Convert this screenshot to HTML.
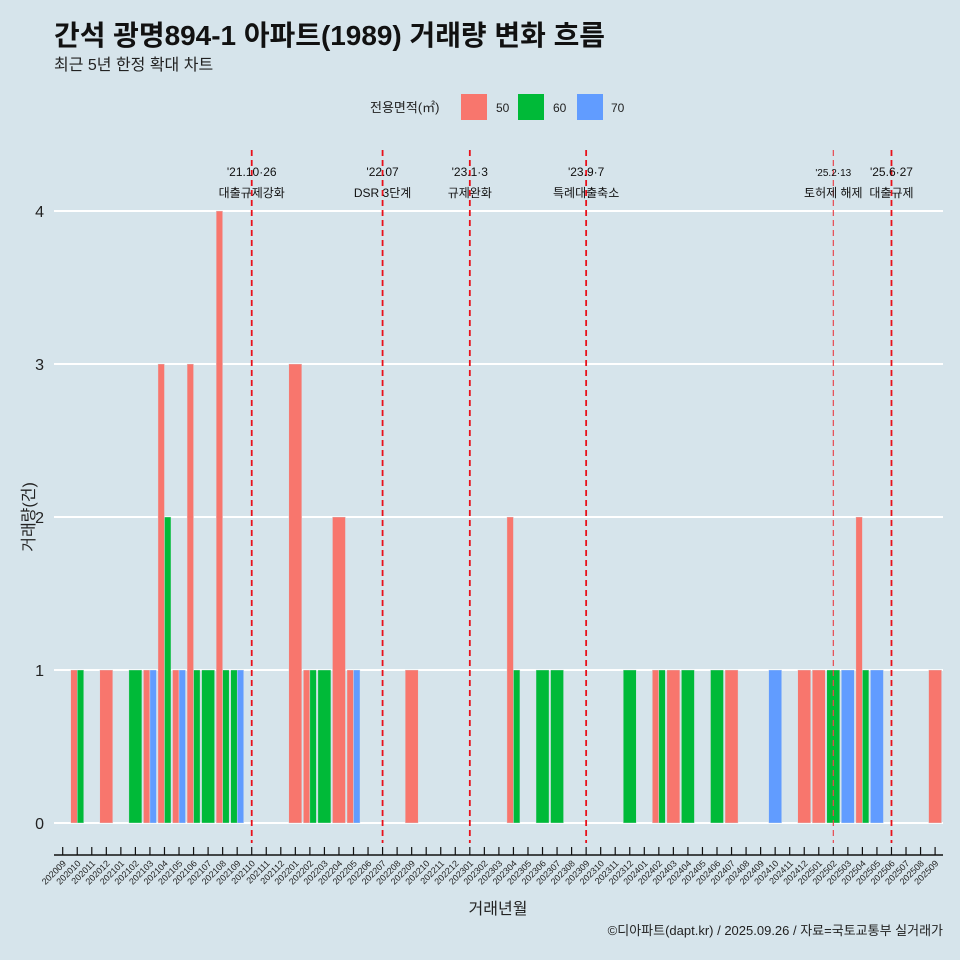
<!DOCTYPE html>
<html><head><meta charset="utf-8"><style>
body{margin:0;background:#d6e4eb;}
svg{display:block;font-family:"Liberation Sans","Noto Sans CJK KR",sans-serif;}
</style></head><body>
<svg id="c" width="960" height="960" viewBox="0 0 960 960">
<rect width="960" height="960" fill="#d6e4eb"/>
<text x="54" y="45" font-size="28" font-weight="bold" fill="#111" textLength="551" lengthAdjust="spacingAndGlyphs">간석 광명894-1 아파트(1989) 거래량 변화 흐름</text>
<text x="54" y="70" font-size="16" fill="#222">최근 5년 한정 확대 차트</text>
<g>
<text x="370" y="112" font-size="13" fill="#222">전용면적(㎡)</text>
<rect x="461" y="94" width="26" height="26" fill="#f8766d"/>
<text x="496" y="112" font-size="12" fill="#222">50</text>
<rect x="518" y="94" width="26" height="26" fill="#00ba38"/>
<text x="553" y="112" font-size="12" fill="#222">60</text>
<rect x="577" y="94" width="26" height="26" fill="#619cff"/>
<text x="611" y="112" font-size="12" fill="#222">70</text>
</g>
<g id="plot"></g>
<text x="498" y="914" font-size="16" text-anchor="middle" fill="#222">거래년월</text>
<text transform="translate(34,517) rotate(-90)" font-size="16" text-anchor="middle" fill="#222">거래량(건)</text>
<text x="943" y="935" font-size="13" text-anchor="end" fill="#222">©디아파트(dapt.kr) / 2025.09.26 / 자료=국토교통부 실거래가</text>
</svg>
<script>
const months=[];
for(let y=2020,m=9;!(y===2025&&m===10);){months.push(''+y+(m<10?'0':'')+m);m++;if(m>12){m=1;y++;}}
const yTicks=[0,1,2,3,4];
const series=['50','60','70'];
const colors={'50':'#f8766d','60':'#00ba38','70':'#619cff'};
const s50={'202010':1,'202012':1,'202103':1,'202104':3,'202105':1,'202106':3,'202108':4,'202201':3,'202202':1,'202204':2,'202205':1,'202209':1,'202304':2,'202402':1,'202403':1,'202407':1,'202412':1,'202501':1,'202504':2,'202509':1};
const s60={'202010':1,'202102':1,'202104':2,'202106':1,'202107':1,'202108':1,'202109':1,'202202':1,'202203':1,'202304':1,'202306':1,'202307':1,'202312':1,'202402':1,'202404':1,'202406':1,'202502':1,'202504':1};
const s70={'202103':1,'202105':1,'202109':1,'202205':1,'202410':1,'202503':1,'202505':1};
const eventMonths=['202110','202207','202301','202309','202502','202506'];
const eventDates=["'21.10·26","'22.07","'23.1·3","'23.9·7","'25.2·13","'25.6·27"];
const eventLabels=['대출규제강화','DSR 3단계','규제완화','특례대출축소','토허제 해제','대출규제'];
const NS='http://www.w3.org/2000/svg';
const g=document.getElementById('plot');
const xS=i=>62.7+i*14.54;
const yS=v=>823-v*153;
const band=13;
function mk(t,a){const e=document.createElementNS(NS,t);for(const k in a)e.setAttribute(k,a[k]);g.appendChild(e);return e;}
yTicks.forEach(v=>{
 const l=mk('line',{x1:54,x2:943,y1:yS(v),y2:yS(v),stroke:'#fff','stroke-width':2});
 
 
 const t=mk('text',{x:44,y:yS(v)+6,'font-size':16,'text-anchor':'end',fill:'#222'});t.textContent=v;
 
 
});
const data={'50':s50,'60':s60,'70':s70};
months.forEach((m,i)=>{
 const present=series.filter(s=>data[s][m]);
 const w=band/ (present.length||1);
 present.forEach((s,j)=>{
  const v=data[s][m];
  const r=mk('rect',{x:xS(i)-band/2+j*w,y:yS(v),width:w,height:yS(0)-yS(v),fill:colors[s],stroke:'#d6e4eb','stroke-width':0.4});
  
  
 });
});
mk('line',{x1:54,x2:943,y1:855,y2:855,stroke:'#111','stroke-width':1.5});
months.forEach((m,i)=>{
 const tk=mk('line',{x1:xS(i),x2:xS(i),y1:847,y2:855,stroke:'#111','stroke-width':1.2});
 
 
 const t=mk('text',{transform:`translate(${xS(i)+4},864) rotate(-45)`,'font-size':9,'text-anchor':'end',fill:'#222'});t.textContent=m;
 
 
});
eventMonths.forEach((m,k)=>{
 const i=months.indexOf(m);const x=xS(i);const light=m==='202502';
 const l=mk('line',{x1:x,x2:x,y1:150,y2:843,stroke:light?'#e8474f':'#e8101a','stroke-width':light?1.2:1.8,'stroke-dasharray':'6,4'});
 
 
 const fs=light?10:12;
 const t1=mk('text',{x:x,y:176,'font-size':fs,'text-anchor':'middle',fill:'#111'});t1.textContent=eventDates[k];
 
 
 const t2=mk('text',{x:x,y:197,'font-size':12,'text-anchor':'middle',fill:'#111'});t2.textContent=eventLabels[k];
 
 
});
</script>
</body></html>
